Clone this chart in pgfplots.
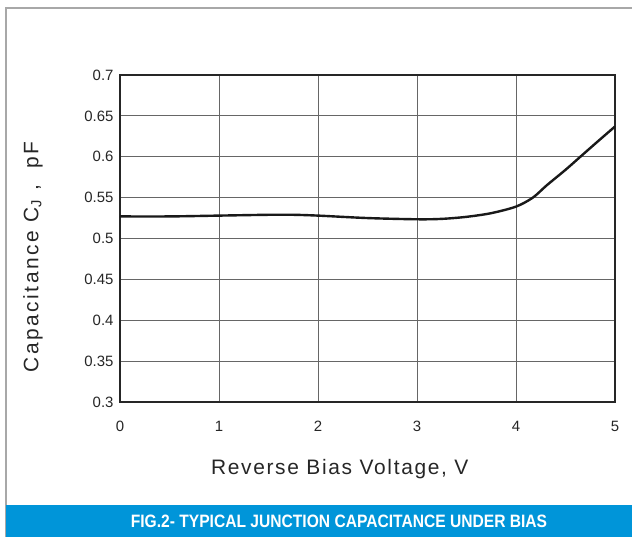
\documentclass[border=0pt]{standalone}
\usepackage{fontspec}
\setmainfont{Liberation Sans}
\newfontfamily\spaced[LetterSpace=8]{Liberation Sans}
\newfontfamily\wspaced[LetterSpace=12]{Liberation Sans}
\usepackage{pgfplots}
\pgfplotsset{compat=1.18}
\definecolor{banner}{HTML}{0095D9}
\definecolor{framegray}{HTML}{A8A8A8}
\begin{document}
\begin{tikzpicture}[x=1bp,y=1bp]
% pixel (px,py) -> (px-120, 402-py)
\useasboundingbox (-120,-135) rectangle (512,402);
\fill[white] (-120,-135) rectangle (512,402);
\draw[framegray, line width=1.6bp] (-114,-135) -- (-114,394) -- (512,394);
\fill[banner] (-114,-135) rectangle (512,-103);
\node[text=white, font=\bfseries\fontsize{18}{18}\selectfont] at (219,-119) {\scalebox{0.87}[1]{FIG.2- TYPICAL JUNCTION CAPACITANCE UNDER BIAS}};
\begin{axis}[
  at={(0,0)}, anchor=south west,
  scale only axis, width=495bp, height=327bp,
  xmin=0, xmax=5, ymin=0.3, ymax=0.7,
  xtick={0,1,2,3,4,5},
  ytick={0.3,0.35,0.4,0.45,0.5,0.55,0.6,0.65,0.7},
  major tick length=0pt,
  grid=major,
  major grid style={draw=black!60, line width=1bp},
  axis line style={draw=black!85, line width=1.4bp},
  /pgf/number format/assume math mode=true,
  /pgf/number format/fixed,
  /pgf/number format/precision=2,
  ticklabel style={font=\fontsize{15}{15}\selectfont, text=black!85},
  xticklabel style={yshift=-16bp},
  yticklabel style={xshift=-3bp},
  xlabel={\spaced Reverse Bias Voltage, V},
  ylabel={\wspaced Capacitance C\textsubscript{J}\hspace{0.45em},\hspace{0.35em} pF},
  xlabel style={font=\fontsize{21}{21}\selectfont, text=black!85, at={(axis description cs:0.444,-0.205)}, anchor=center},
  ylabel style={font=\fontsize{21}{21}\selectfont, text=black!85, at={(axis description cs:-0.176,0.443)}, anchor=center, rotate=0},
]
\addplot[black!90, line width=2.4bp, smooth, tension=0.5] coordinates {
(0,0.527) (0.5,0.527) (1,0.528) (1.5,0.529) (1.75,0.529) (2,0.528) (2.5,0.525) (3,0.5235) (3.25,0.524) (3.5,0.5265) (3.75,0.531) (4,0.539) (4.17,0.55) (4.31,0.565) (4.5,0.584) (4.65,0.600) (4.8,0.616) (5,0.637)
};
\end{axis}
\end{tikzpicture}
\end{document}
